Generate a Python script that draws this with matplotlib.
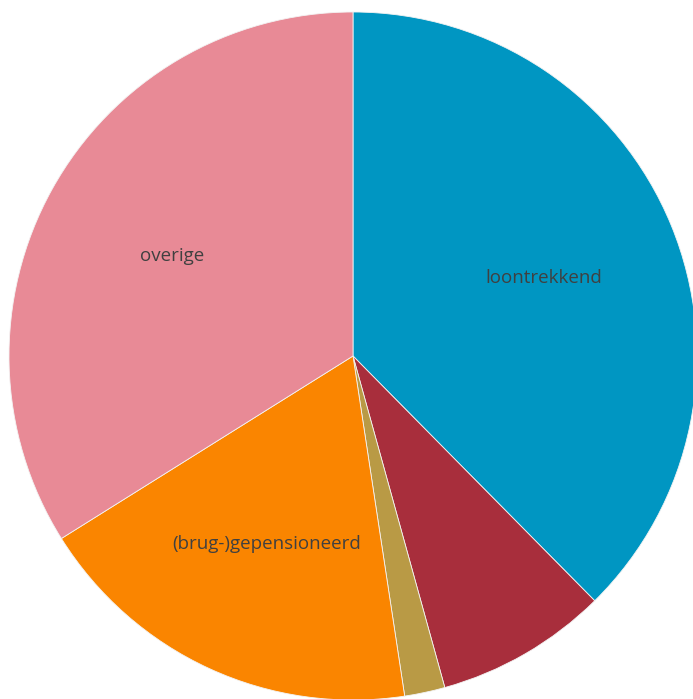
import matplotlib.pyplot as plt

# slices, clockwise from 12 o'clock
labels = ["loontrekkend", "", "", "(brug-)gepensioneerd", "overige"]
shares = [37.6, 8.1, 1.9, 18.5, 33.9]
colors = ["#0096c2", "#a82e3c", "#b99a45", "#fa8500", "#e88a96"]

W, H = 693, 699
cx, cy, R = 353, 356, 344

fig = plt.figure(figsize=(W / 100, H / 100), dpi=100)
ax = fig.add_axes([(cx - R) / W, (H - cy - R) / H, 2 * R / W, 2 * R / H])

wedges, texts = ax.pie(shares, labels=labels, colors=colors, startangle=90,
                       counterclock=False, labeldistance=0.6, radius=1,
                       wedgeprops=dict(edgecolor="#f3f3f3", linewidth=0.6),
                       textprops=dict(color="#404040", fontsize=13.5,
                                      family="Open Sans", ha="center", va="center"))

ax.set_xlim(-1, 1)
ax.set_ylim(-1, 1)
ax.set_aspect("auto")
ax.axis("off")

fig.savefig("out.png", dpi=100)
